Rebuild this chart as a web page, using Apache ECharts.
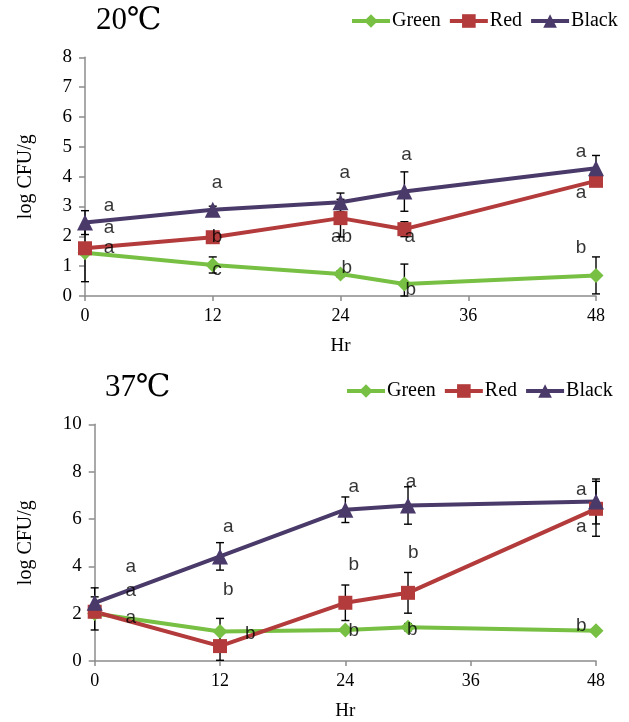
<!DOCTYPE html>
<html>
<head>
<meta charset="utf-8">
<script src="https://cdn.jsdelivr.net/npm/echarts@6/dist/echarts.min.js"></script>
<style>html,body{margin:0;padding:0;background:#fff}#c{width:629px;height:722px}</style>
</head>
<body>
<div id="c"></div>
<script>
// ---- data ----
const hours = [0, 12, 24, 30, 48];
const xTicks = [0, 12, 24, 36, 48];
const seriesNames = ['Green', 'Red', 'Black'];

// 20 ℃
const green20 = [1.45, 1.04, 0.74, 0.40, 0.69];
const red20   = [1.60, 1.97, 2.61, 2.24, 3.86];
const black20 = [2.46, 2.89, 3.14, 3.50, 4.28];
const greenErr20 = [0.97, 0.27, 0.10, 0.67, 0.62];
const redErr20   = [0.10, 0.10, 0.63, 0.25, 0.10];
const blackErr20 = [0.40, 0.12, 0.31, 0.66, 0.43];
const letters20 = [
  [2.25, 3.03, 'a'], [2.25, 2.29, 'a'], [2.25, 1.60, 'a'],
  [12.4, 3.78, 'a'], [12.4, 1.97, 'b'], [12.4, 0.87, 'c'],
  [24.4, 4.12, 'a'], [24.1, 1.97, 'ab'], [24.6, 0.93, 'b'],
  [30.2, 4.73, 'a'], [30.5, 1.97, 'a'], [30.6, 0.20, 'b'],
  [46.6, 4.84, 'a'], [46.6, 3.45, 'a'], [46.6, 1.60, 'b']
];

// 37 ℃
const green37 = [2.01, 1.25, 1.31, 1.43, 1.28];
const red37   = [2.08, 0.63, 2.46, 2.88, 6.43];
const black37 = [2.46, 4.42, 6.39, 6.57, 6.74];
const greenErr37 = [0.70, 0.55, 0.10, 0.15, 0.10];
const redErr37   = [0.10, 0.60, 0.75, 0.86, 1.16];
const blackErr37 = [0.63, 0.58, 0.54, 0.79, 0.95];
const letters37 = [
  [3.45, 3.98, 'a'], [3.45, 2.95, 'a'], [3.45, 1.83, 'a'],
  [12.8, 5.69, 'a'], [12.8, 3.02, 'b'], [14.9, 1.13, 'b'],
  [24.8, 7.37, 'a'], [24.8, 4.07, 'b'], [24.8, 1.26, 'b'],
  [30.3, 7.58, 'a'], [30.5, 4.57, 'b'], [30.4, 1.34, 'b'],
  [46.6, 7.23, 'a'], [46.6, 5.69, 'a'], [46.6, 1.47, 'b']
];

// ---- styles ----
const SERIF = '"Liberation Serif", "DejaVu Serif", serif';
const SANS = '"Liberation Sans", Arial, sans-serif';
const colors = {Green: '#77c043', Red: '#b33b3b', Black: '#4a3a6a'};
const symbols = {Green: 'diamond', Red: 'rect', Black: 'triangle'};
const symSizes = {Green: 15, Red: 14, Black: 16};
const AXIS = '#8c8c8c';

function lineSeries(name, vals, idx) {
  return {
    name: name, type: 'line', xAxisIndex: idx, yAxisIndex: idx,
    data: hours.map((h, i) => [h, vals[i]]),
    symbol: symbols[name], symbolSize: symSizes[name], showSymbol: true,
    lineStyle: {color: colors[name], width: 4},
    itemStyle: {color: colors[name]},
    z: 3, animation: false, emphasis: {disabled: true}
  };
}
function errSeries(vals, errs, idx) {
  return {
    type: 'custom', xAxisIndex: idx, yAxisIndex: idx, z: 2, silent: true, animation: false,
    data: hours.map((h, i) => [h, Math.max(0, vals[i] - errs[i]), vals[i] + errs[i]]),
    encode: {x: 0, y: [1, 2]},
    renderItem: function (params, api) {
      const x = api.value(0);
      const p1 = api.coord([x, api.value(2)]);
      const p2 = api.coord([x, api.value(1)]);
      const w = 4;
      const st = {stroke: '#000', lineWidth: 1.4};
      return {type: 'group', children: [
        {type: 'line', shape: {x1: p1[0], y1: p1[1], x2: p2[0], y2: p2[1]}, style: st},
        {type: 'line', shape: {x1: p1[0] - w, y1: p1[1], x2: p1[0] + w, y2: p1[1]}, style: st},
        {type: 'line', shape: {x1: p2[0] - w, y1: p2[1], x2: p2[0] + w, y2: p2[1]}, style: st}
      ]};
    }
  };
}
function letterSeries(letters, idx) {
  return {
    type: 'scatter', xAxisIndex: idx, yAxisIndex: idx, z: 5, silent: true, animation: false,
    symbol: 'circle', symbolSize: 1, itemStyle: {color: 'rgba(0,0,0,0)'},
    data: letters,
    label: {show: true, position: 'inside', formatter: p => p.data[2],
      color: '#000', fontFamily: SANS, fontSize: 19},
    emphasis: {disabled: true}
  };
}
function xAxis(idx) {
  return {
    type: 'value', gridIndex: idx, min: 0, max: 48, interval: 12,
    name: 'Hr', nameLocation: 'middle', nameGap: 41,
    nameTextStyle: {fontFamily: SERIF, fontSize: 19, color: '#000'},
    axisLine: {show: true, lineStyle: {color: AXIS, width: 1.5}},
    axisTick: {show: true, length: 5, lineStyle: {color: AXIS, width: 1.5}},
    axisLabel: {fontFamily: SERIF, fontSize: 18, color: '#000', margin: 11},
    splitLine: {show: false}
  };
}
function yAxis(idx, max, interval, gap) {
  return {
    type: 'value', gridIndex: idx, min: 0, max: max, interval: interval,
    name: 'log CFU/g', nameLocation: 'middle', nameGap: gap, nameRotate: 90,
    nameTextStyle: {fontFamily: SERIF, fontSize: 20, color: '#000'},
    axisLine: {show: true, lineStyle: {color: AXIS, width: 1.5}},
    axisTick: {show: true, length: 6, lineStyle: {color: AXIS, width: 1.5}},
    axisLabel: {fontFamily: SERIF, fontSize: 19, color: '#000', margin: 13},
    splitLine: {show: false}
  };
}
function legend(left, top) {
  return {
    data: seriesNames, left: left, top: top, padding: 0, itemGap: 7,
    itemWidth: 38, itemHeight: 17,
    lineStyle: {width: 4},
    textStyle: {fontFamily: SERIF, fontSize: 20, color: '#000', padding: [0, 0, 0, -3]},
    selectedMode: false
  };
}

const option = {
  backgroundColor: '#fff',
  animation: false,
  title: [
    {text: '20℃', left: 96, top: 5, padding: 0, textStyle: {fontFamily: SERIF, fontSize: 31, fontWeight: 'normal', color: '#000'}},
    {text: '37℃', left: 105, top: 372, padding: 0, textStyle: {fontFamily: SERIF, fontSize: 31, fontWeight: 'normal', color: '#000'}}
  ],
  legend: [legend(350, 11), legend(345, 381)],
  grid: [
    {left: 85, top: 57.3, width: 511, height: 238.7},
    {left: 94.7, top: 424.3, width: 501.3, height: 237.4}
  ],
  xAxis: [xAxis(0), xAxis(1)],
  yAxis: [yAxis(0, 8, 1, 49), yAxis(1, 10, 2, 59)],
  series: [
    errSeries(green20, greenErr20, 0), errSeries(red20, redErr20, 0), errSeries(black20, blackErr20, 0),
    lineSeries('Green', green20, 0), lineSeries('Red', red20, 0), lineSeries('Black', black20, 0),
    letterSeries(letters20, 0),
    errSeries(green37, greenErr37, 1), errSeries(red37, redErr37, 1), errSeries(black37, blackErr37, 1),
    lineSeries('Green', green37, 1), lineSeries('Red', red37, 1), lineSeries('Black', black37, 1),
    letterSeries(letters37, 1)
  ]
};
const chart = echarts.init(document.getElementById('c'), null, {renderer: 'canvas'});
chart.setOption(option);
</script>
</body>
</html>
